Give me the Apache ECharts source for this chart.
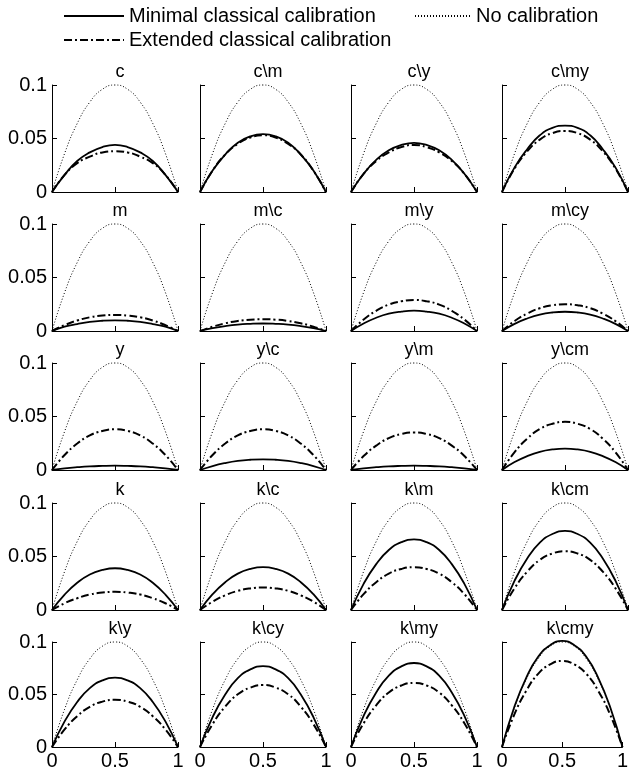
<!DOCTYPE html>
<html>
<head>
<meta charset="utf-8">
<script src="https://cdn.jsdelivr.net/npm/echarts@6/dist/echarts.min.js"></script>
<style>
  html, body { margin: 0; padding: 0; background: #fff; }
  #main { width: 631px; height: 771px; }
</style>
</head>
<body>
<div id="main"></div>
<script>
// x positions where the curves were read
var xs = [0, 0.1, 0.2, 0.3, 0.4, 0.5, 0.6, 0.7, 0.8, 0.9, 1];

var titles = ['c', 'c\\m', 'c\\y', 'c\\my',
  'm', 'm\\c', 'm\\y', 'm\\cy',
  'y', 'y\\c', 'y\\m', 'y\\cm',
  'k', 'k\\c', 'k\\m', 'k\\cm',
  'k\\y', 'k\\cy', 'k\\my', 'k\\cmy'];

// dotted curve, same in every panel
var noCal = [0, 0.036, 0.064, 0.084, 0.096, 0.1, 0.096, 0.084, 0.064, 0.036, 0];

// solid curves (minimal classical calibration), one per panel
var minimal = [
  [0, 0.016, 0.029, 0.037, 0.042, 0.044, 0.042, 0.037, 0.029, 0.016, 0],
  [0, 0.020, 0.035, 0.046, 0.052, 0.054, 0.052, 0.046, 0.035, 0.020, 0],
  [0, 0.017, 0.030, 0.039, 0.044, 0.046, 0.044, 0.039, 0.030, 0.017, 0],
  [0, 0.023, 0.040, 0.053, 0.060, 0.062, 0.060, 0.053, 0.040, 0.023, 0],

  [0, 0.0040, 0.0065, 0.0085, 0.0096, 0.010, 0.0096, 0.0085, 0.0065, 0.0040, 0],
  [0, 0.0026, 0.0046, 0.0060, 0.0067, 0.007, 0.0067, 0.0060, 0.0046, 0.0026, 0],
  [0, 0.0070, 0.0124, 0.0162, 0.0182, 0.019, 0.0182, 0.0162, 0.0124, 0.0070, 0],
  [0, 0.0067, 0.0117, 0.0153, 0.0173, 0.018, 0.0173, 0.0153, 0.0117, 0.0067, 0],

  [0, 0.0015, 0.0026, 0.0034, 0.0038, 0.004, 0.0038, 0.0034, 0.0026, 0.0015, 0],
  [0, 0.0037, 0.0065, 0.0085, 0.0096, 0.010, 0.0096, 0.0085, 0.0065, 0.0037, 0],
  [0, 0.0015, 0.0026, 0.0034, 0.0038, 0.004, 0.0038, 0.0034, 0.0026, 0.0015, 0],
  [0, 0.0074, 0.0130, 0.0170, 0.0192, 0.020, 0.0192, 0.0170, 0.0130, 0.0074, 0],

  [0, 0.0144, 0.0254, 0.0332, 0.0374, 0.039, 0.0374, 0.0332, 0.0254, 0.0144, 0],
  [0, 0.0148, 0.0260, 0.0340, 0.0384, 0.040, 0.0384, 0.0340, 0.0260, 0.0148, 0],
  [0, 0.0244, 0.0429, 0.0561, 0.0634, 0.066, 0.0634, 0.0561, 0.0429, 0.0244, 0],
  [0, 0.0274, 0.0481, 0.0629, 0.0710, 0.074, 0.0710, 0.0629, 0.0481, 0.0274, 0],

  [0, 0.0244, 0.0429, 0.0561, 0.0634, 0.066, 0.0634, 0.0561, 0.0429, 0.0244, 0],
  [0, 0.0285, 0.0500, 0.0655, 0.0739, 0.077, 0.0739, 0.0655, 0.0500, 0.0285, 0],
  [0, 0.0296, 0.0520, 0.0680, 0.0768, 0.080, 0.0768, 0.0680, 0.0520, 0.0296, 0],
  [0, 0.0374, 0.0657, 0.0859, 0.0970, 0.101, 0.0970, 0.0859, 0.0657, 0.0374, 0]
];

// dash-dot curves (extended classical calibration), one per panel
var extended = [
  [0, 0.016, 0.027, 0.033, 0.037, 0.038, 0.037, 0.033, 0.027, 0.016, 0],
  [0, 0.020, 0.035, 0.045, 0.051, 0.053, 0.051, 0.045, 0.035, 0.020, 0],
  [0, 0.017, 0.029, 0.037, 0.042, 0.044, 0.042, 0.037, 0.029, 0.017, 0],
  [0, 0.022, 0.038, 0.049, 0.055, 0.057, 0.055, 0.049, 0.038, 0.022, 0],

  [0, 0.0055, 0.0098, 0.0128, 0.0144, 0.015, 0.0144, 0.0128, 0.0098, 0.0055, 0],
  [0, 0.0040, 0.0072, 0.0094, 0.0106, 0.011, 0.0106, 0.0094, 0.0072, 0.0040, 0],
  [0, 0.0107, 0.0189, 0.0247, 0.0278, 0.029, 0.0278, 0.0247, 0.0189, 0.0107, 0],
  [0, 0.0093, 0.0163, 0.0213, 0.0240, 0.025, 0.0240, 0.0213, 0.0163, 0.0093, 0],

  [0, 0.0140, 0.0247, 0.0323, 0.0365, 0.038, 0.0365, 0.0323, 0.0247, 0.0140, 0],
  [0, 0.0140, 0.0247, 0.0323, 0.0365, 0.038, 0.0365, 0.0323, 0.0247, 0.0140, 0],
  [0, 0.0130, 0.0228, 0.0298, 0.0336, 0.035, 0.0336, 0.0298, 0.0228, 0.0130, 0],
  [0, 0.0167, 0.0293, 0.0383, 0.0432, 0.045, 0.0432, 0.0383, 0.0293, 0.0167, 0],

  [0, 0.0063, 0.0110, 0.0145, 0.0163, 0.017, 0.0163, 0.0145, 0.0110, 0.0063, 0],
  [0, 0.0078, 0.0137, 0.0179, 0.0202, 0.021, 0.0202, 0.0179, 0.0137, 0.0078, 0],
  [0, 0.0148, 0.0260, 0.0340, 0.0384, 0.040, 0.0384, 0.0340, 0.0260, 0.0148, 0],
  [0, 0.0204, 0.0358, 0.0468, 0.0528, 0.055, 0.0528, 0.0468, 0.0358, 0.0204, 0],

  [0, 0.0167, 0.0293, 0.0383, 0.0432, 0.045, 0.0432, 0.0383, 0.0293, 0.0167, 0],
  [0, 0.0218, 0.0384, 0.0502, 0.0566, 0.059, 0.0566, 0.0502, 0.0384, 0.0218, 0],
  [0, 0.0226, 0.0397, 0.0519, 0.0586, 0.061, 0.0586, 0.0519, 0.0397, 0.0226, 0],
  [0, 0.0303, 0.0533, 0.0697, 0.0787, 0.082, 0.0787, 0.0697, 0.0533, 0.0303, 0]
];

var names = ['Minimal classical calibration', 'Extended classical calibration', 'No calibration'];

var font = 'Liberation Sans';
var colLeft = [52, 200, 351, 502];
var panelW = 126, panelH = 107;
var rowTop = [85, 224, 363, 503, 642];

function pairs(ys) {
  return xs.map(function (x, i) { return [x, ys[i]]; });
}

var grids = [], xAxes = [], yAxes = [], titleList = [], seriesList = [];

for (var i = 0; i < 20; i++) {
  var r = Math.floor(i / 4), c = i % 4;
  grids.push({ left: colLeft[c], top: rowTop[r], width: panelW, height: panelH });
  titleList.push({
    text: titles[i],
    left: colLeft[c] + panelW / 2,
    top: rowTop[r] - 27,
    textAlign: 'center',
    textStyle: { fontFamily: font, fontSize: 18, fontWeight: 'normal', color: '#000' }
  });
  xAxes.push({
    type: 'value', gridIndex: i, min: 0, max: 1, interval: 0.5,
    axisLine: { lineStyle: { color: '#000', width: 1 } },
    axisTick: { inside: true, length: 5, lineStyle: { color: '#000' } },
    axisLabel: { show: r === 4, fontFamily: font, fontSize: 20, color: '#000', margin: 4 },
    splitLine: { show: false }
  });
  yAxes.push({
    type: 'value', gridIndex: i, min: 0, max: 0.1, interval: 0.05,
    axisLine: { show: true, lineStyle: { color: '#000', width: 1 } },
    axisTick: { show: true, inside: true, length: 5, lineStyle: { color: '#000' } },
    axisLabel: { show: c === 0, fontFamily: font, fontSize: 20, color: '#000', margin: 5 },
    splitLine: { show: false }
  });
  seriesList.push({
    name: names[2], type: 'line', xAxisIndex: i, yAxisIndex: i,
    data: pairs(noCal), smooth: true, symbol: 'none', clip: false, color: '#000',
    lineStyle: { color: '#000', width: 1, type: [1, 2] }
  });
  seriesList.push({
    name: names[1], type: 'line', xAxisIndex: i, yAxisIndex: i,
    data: pairs(extended[i]), smooth: true, symbol: 'none', clip: false, color: '#000',
    lineStyle: { color: '#000', width: 2, type: [8, 3, 2, 3] }
  });
  seriesList.push({
    name: names[0], type: 'line', xAxisIndex: i, yAxisIndex: i,
    data: pairs(minimal[i]), smooth: true, symbol: 'none', clip: false, color: '#000',
    lineStyle: { color: '#000', width: 1.8, type: 'solid' }
  });
}

var legendText = { fontFamily: font, fontSize: 20, color: '#000' };

function legendItem(name, left, top, w) {
  return {
    data: [name], left: left, top: top, padding: 0,
    itemWidth: w, itemHeight: 12,
    itemStyle: { opacity: 0 },
    textStyle: legendText, selectedMode: false
  };
}

var option = {
  backgroundColor: '#fff',
  animation: false,
  title: titleList,
  legend: [
    legendItem(names[0], 63, 6, 60),
    legendItem(names[2], 414, 6, 56),
    legendItem(names[1], 63, 30, 60)
  ],
  grid: grids,
  xAxis: xAxes,
  yAxis: yAxes,
  series: seriesList
};

var chart = echarts.init(document.getElementById('main'), null, { renderer: 'canvas' });
chart.setOption(option);
</script>
</body>
</html>
